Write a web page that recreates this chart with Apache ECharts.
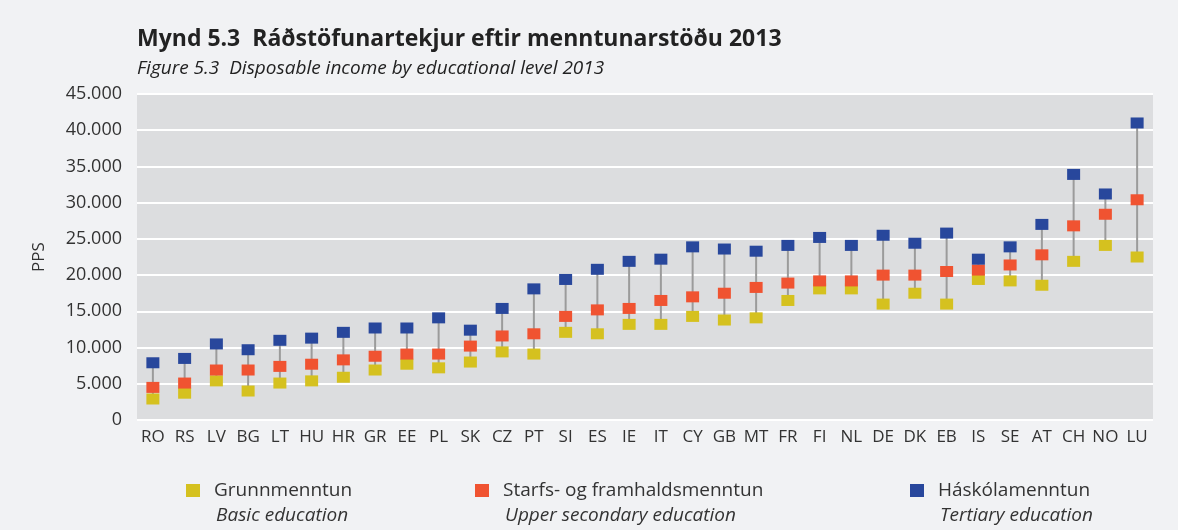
<!DOCTYPE html>
<html>
<head>
<meta charset="utf-8">
<script src="https://cdn.jsdelivr.net/npm/echarts@6/dist/echarts.min.js"></script>
<style>
  html, body { margin: 0; padding: 0; background: #f1f2f4; }
  #chart { width: 1178px; height: 530px; }
</style>
</head>
<body>
<div id="chart"></div>
<script>
// Data (PPS)
var countries = ["RO", "RS", "LV", "BG", "LT", "HU", "HR", "GR", "EE", "PL", "SK",
  "CZ", "PT", "SI", "ES", "IE", "IT", "CY", "GB", "MT", "FR",
  "FI", "NL", "DE", "DK", "EB", "IS", "SE", "AT", "CH", "NO", "LU"];
var basic = [2900, 3700, 5400, 4000, 5100, 5400, 5900, 6900, 7700, 7200, 8000,
  9400, 9100, 12100, 11900, 13200, 13200, 14300, 13800, 14100, 16500,
  18100, 18100, 16000, 17500, 16000, 19400, 19200, 18600, 21900, 24100, 22500];
var upper = [4500, 5100, 6900, 6900, 7400, 7700, 8300, 8800, 9100, 9100, 10200,
  11600, 11900, 14300, 15200, 15400, 16500, 17000, 17500, 18300, 18900,
  19200, 19200, 20000, 20000, 20500, 20700, 21400, 22800, 26800, 28400, 30400];
var tertiary = [7900, 8500, 10500, 9700, 11000, 11300, 12100, 12700, 12700, 14100, 12400,
  15400, 18100, 19400, 20800, 21900, 22200, 23900, 23600, 23300, 24100,
  25200, 24100, 25500, 24400, 25800, 22200, 23900, 27000, 33900, 31200, 41000];
var yTicks = { min: 0, max: 45000, step: 5000 };

var seriesNames = ["Grunnmenntun", "Starfs- og framhaldsmenntun", "Háskólamenntun"];
var seriesNamesEn = ["Basic education", "Upper secondary education", "Tertiary education"];
var colors = ["#d5c11f", "#f05331", "#28479c"];

var ranges = countries.map(function (c, i) {
  var v = [basic[i], upper[i], tertiary[i]];
  return [i, Math.min.apply(null, v), Math.max.apply(null, v)];
});

var font = "'Open Sans', sans-serif";

function thousands(v) {
  return String(v).replace(/\B(?=(\d{3})+(?!\d))/g, ".");
}

var chart = echarts.init(document.getElementById("chart"));

// x of each legend icon
var legendX = [186, 475, 910];

var option = {
  backgroundColor: "#f1f2f4",
  animation: false,
  textStyle: { fontFamily: font, color: "#333" },
  title: [
    {
      text: "Mynd 5.3  Ráðstöfunartekjur eftir menntunarstöðu 2013",
      left: 132, top: 23,
      textStyle: { fontFamily: font, fontSize: 23, fontWeight: "bold", color: "#222" }
    },
    {
      text: "Figure 5.3  Disposable income by educational level 2013",
      left: 132, top: 54,
      textStyle: { fontFamily: font, fontSize: 19, fontStyle: "italic", fontWeight: "normal", color: "#222" }
    }
  ],
  legend: seriesNames.map(function (n, i) {
    return {
      data: [n],
      left: legendX[i] - 5, top: 476,
      itemWidth: 14, itemHeight: 13,
      icon: "rect",
      textStyle: { fontFamily: font, fontSize: 19, color: "#333", padding: [0, 0, 0, 9] }
    };
  }),
  graphic: seriesNamesEn.map(function (n, i) {
    return {
      type: "text",
      left: legendX[i] + 30, top: 506,
      style: { text: n, font: "italic 19px " + font, fill: "#333" }
    };
  }),
  grid: {
    left: 137, right: 25, top: 94, bottom: 110,
    show: true, backgroundColor: "#dcdddf", borderWidth: 0
  },
  xAxis: {
    type: "category",
    data: countries,
    axisLine: { show: false },
    axisTick: { show: false },
    axisLabel: { fontSize: 17, color: "#333", margin: 9, interval: 0 }
  },
  yAxis: {
    type: "value",
    min: yTicks.min, max: yTicks.max, interval: yTicks.step,
    name: "PPS",
    nameLocation: "middle",
    nameGap: 89,
    nameRotate: 90,
    nameTextStyle: { fontSize: 17, color: "#333" },
    axisLine: { show: false },
    axisTick: { show: false },
    axisLabel: { fontSize: 18, color: "#333", margin: 15, formatter: thousands },
    splitLine: { lineStyle: { color: "#ffffff", width: 2 } }
  },
  series: [
    {
      type: "custom",
      name: "range",
      data: ranges,
      silent: true,
      z: 1,
      renderItem: function (params, api) {
        var lo = api.coord([api.value(0), api.value(1)]);
        var hi = api.coord([api.value(0), api.value(2)]);
        return {
          type: "line",
          shape: { x1: lo[0], y1: lo[1], x2: hi[0], y2: hi[1] },
          style: { stroke: "#9b9b9b", lineWidth: 2 }
        };
      }
    },
    {
      type: "scatter", name: seriesNames[0], data: basic, z: 2,
      symbol: "rect", symbolSize: [13, 11], itemStyle: { color: colors[0], opacity: 1 }
    },
    {
      type: "scatter", name: seriesNames[1], data: upper, z: 3,
      symbol: "rect", symbolSize: [13, 11], itemStyle: { color: colors[1], opacity: 1 }
    },
    {
      type: "scatter", name: seriesNames[2], data: tertiary, z: 4,
      symbol: "rect", symbolSize: [13, 11], itemStyle: { color: colors[2], opacity: 1 }
    }
  ]
};

chart.setOption(option);
</script>
</body>
</html>
